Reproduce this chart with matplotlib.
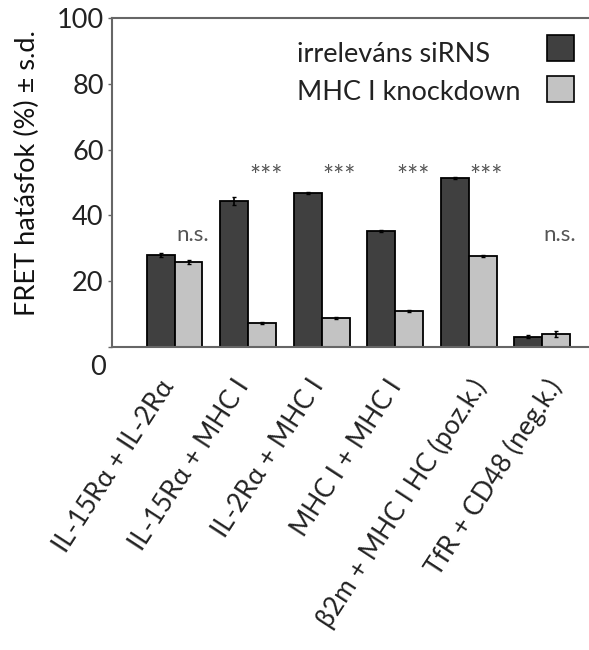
import matplotlib
matplotlib.use("Agg")
import matplotlib.pyplot as plt
import matplotlib.transforms as mtransforms
from matplotlib.patches import Rectangle
import numpy as np

plt.rcParams['font.family'] = ['Lato', 'DejaVu Sans']

# FRET efficiency per receptor pair, control vs. MHC I knockdown
pairs = ["IL-15Rα + IL-2Rα", "IL-15Rα + MHC I", "IL-2Rα + MHC I",
         "MHC I + MHC I", "β2m + MHC I HC (poz.k.)", "TfR + CD48 (neg.k.)"]
ctrl = [28.0, 44.3, 46.9, 35.3, 51.3, 3.1]
ctrl_sd = [0.5, 1.2, 0.3, 0.2, 0.3, 0.4]
kd = [25.8, 7.4, 8.9, 10.9, 27.8, 4.0]
kd_sd = [0.7, 0.3, 0.3, 0.4, 0.3, 0.9]
signif = ["n.s.", "***", "***", "***", "***", "n.s."]
sig_y = [34, 51.5, 51.5, 51.5, 51.5, 34]
yticks = [0, 20, 40, 60, 80, 100]
series_names = ["irreleváns siRNS", "MHC I knockdown"]

dark = "#404040"
light = "#c3c3c3"
spine_c = "#666666"
txt_c = "#222222"

fig = plt.figure(figsize=(5.89, 6.5), dpi=100)
ax = fig.add_axes([112 / 589, 303 / 650, 490 / 589, 329 / 650])

x = np.arange(len(pairs))
w = 0.38
ax.bar(x - w / 2, ctrl, w, color=dark, edgecolor="black", linewidth=1.3,
       yerr=ctrl_sd, error_kw=dict(ecolor="black", elinewidth=1.2, capsize=1.5))
ax.bar(x + w / 2, kd, w, color=light, edgecolor="black", linewidth=1.3,
       yerr=kd_sd, error_kw=dict(ecolor="black", elinewidth=1.2, capsize=1.5))

for xi, s, yy in zip(x, signif, sig_y):
    fs = 16 if s == "n.s." else 19
    ax.text(xi + w / 2 + 0.05, yy, s, ha="center", va="center",
            fontsize=fs, color="#555555")

ax.set_xlim(-0.85, 5.81)
ax.set_ylim(0, 100)
ax.set_yticks(yticks)
ax.set_yticklabels([str(v) for v in yticks], fontsize=19.5, color=txt_c)
ax.tick_params(axis="y", direction="out", length=3, width=1, color=spine_c, pad=3)
ax.tick_params(axis="x", length=0, pad=25)

# zero label sits below the baseline
lbl0 = ax.get_yticklabels()[0]
lbl0.set_transform(lbl0.get_transform() +
                   mtransforms.ScaledTranslation(1.5 / 72, -13 / 72, fig.dpi_scale_trans))

ax.set_xticks(x)
ax.set_xticklabels(pairs, rotation=57, ha="right", va="center",
                   rotation_mode="anchor", fontsize=19, color=txt_c)
label_dx = [-4, -3, -2.5, 1, 8.5, 10]
for lab, dx in zip(ax.get_xticklabels(), label_dx):
    lab.set_transform(lab.get_transform() +
                      mtransforms.ScaledTranslation(dx / 72, 0, fig.dpi_scale_trans))

ax.set_ylabel("FRET hatásfok (%) ± s.d.", fontsize=19.5, color="#111111")
ax.yaxis.set_label_coords(-0.147, 0.529)

for side in ["left", "bottom", "top"]:
    ax.spines[side].set_color(spine_c)
    ax.spines[side].set_linewidth(1.5)
ax.spines["right"].set_visible(False)

# legend: labels left-aligned, swatches on the right
for name, col, ty, by in zip(series_names, [dark, light], [0.866, 0.751], [0.869, 0.745]):
    ax.text(0.3776, ty, name, transform=ax.transAxes, ha="left", va="baseline",
            fontsize=19.5, color=txt_c)
    ax.add_patch(Rectangle((0.8878, by), 0.0551, 0.078, transform=ax.transAxes,
                           facecolor=col, edgecolor="black", linewidth=1.2,
                           clip_on=False))

fig.savefig("out.png", dpi=100)
